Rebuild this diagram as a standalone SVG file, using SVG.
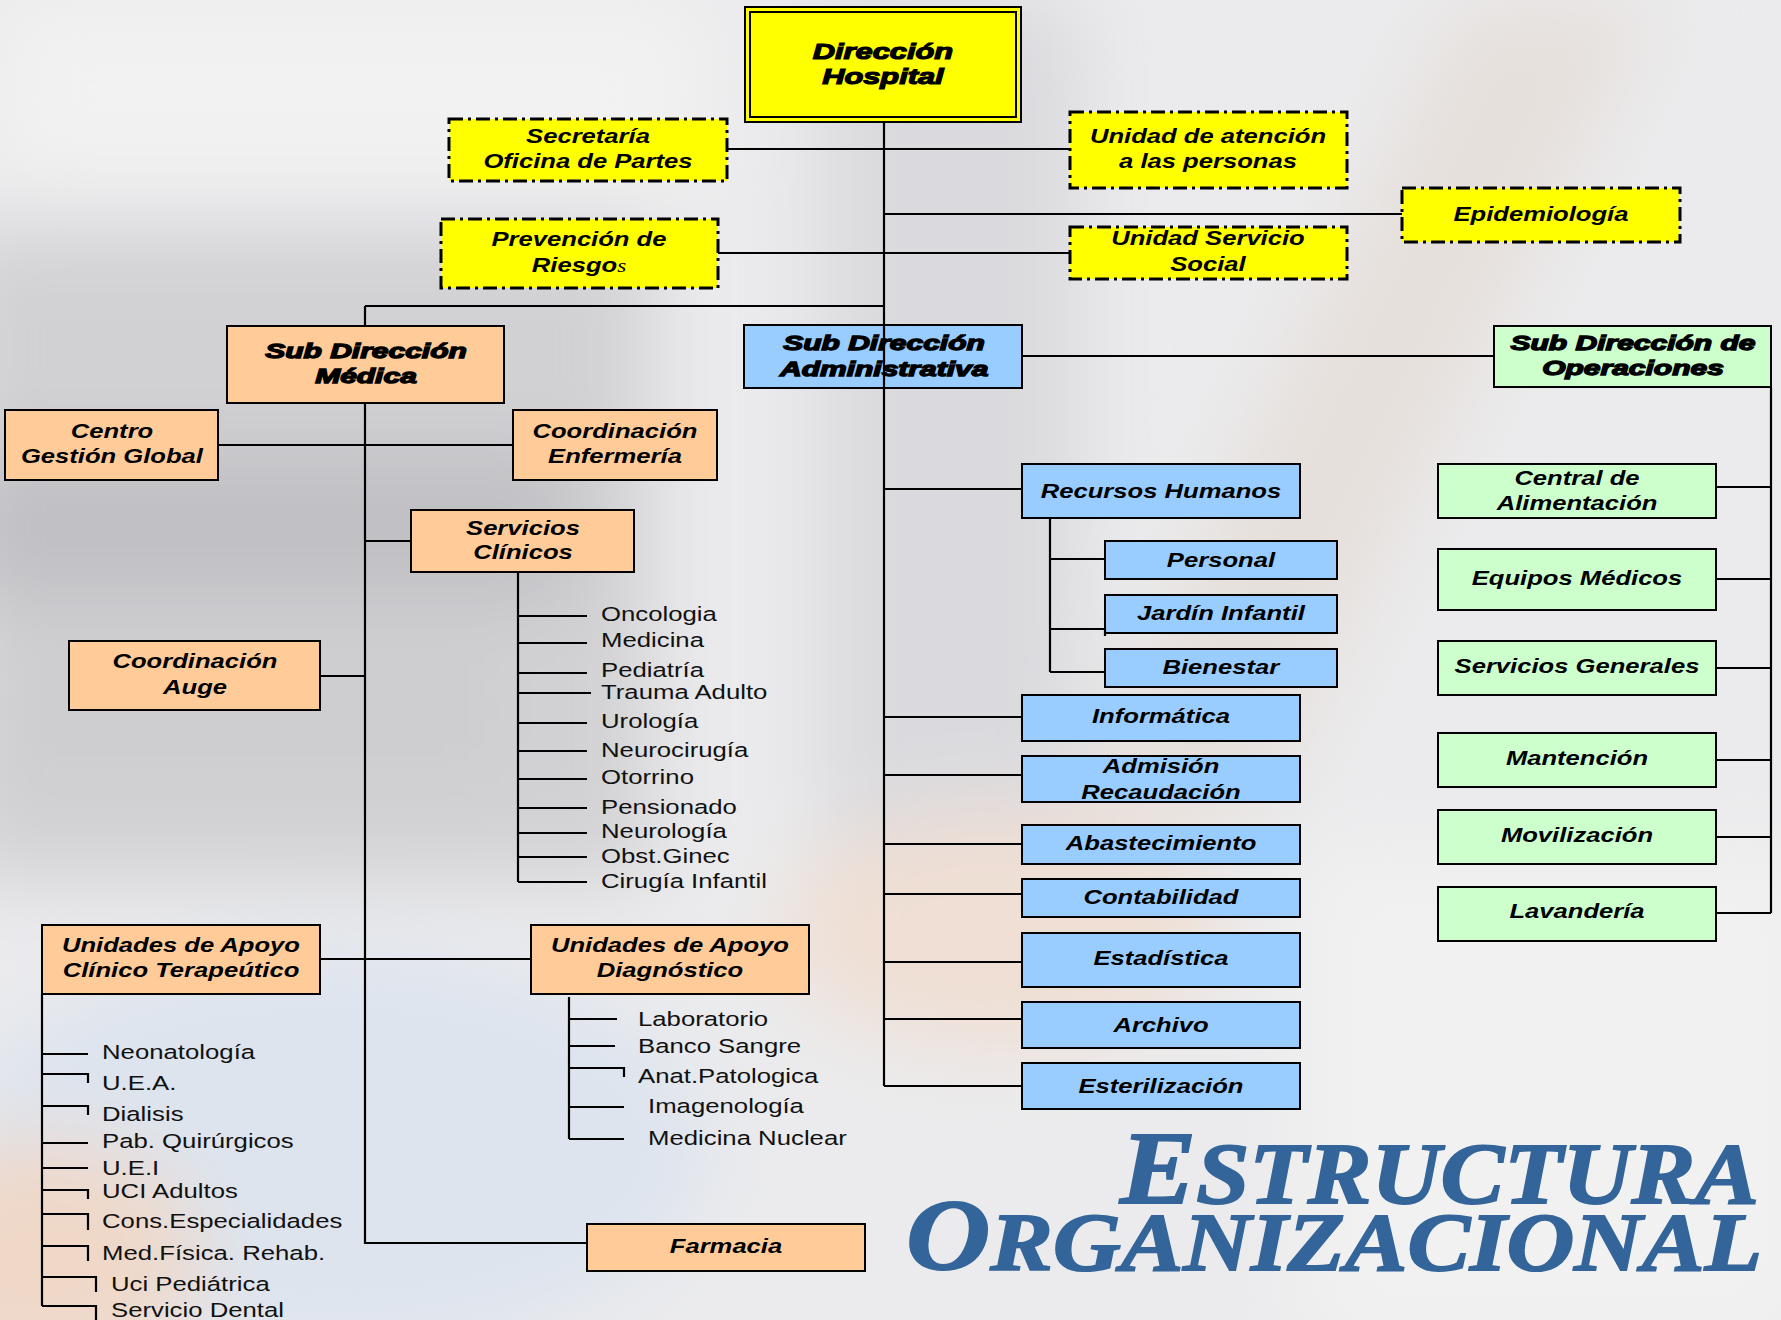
<svg xmlns="http://www.w3.org/2000/svg" width="1781" height="1320" viewBox="0 0 1781 1320">
<style>
.b{font-family:"Liberation Sans",Arial,sans-serif;font-weight:bold;font-style:italic;font-size:21px;text-anchor:middle;fill:#000;transform-box:fill-box;transform-origin:center;transform:scaleX(1.22)}
.h{font-family:"Liberation Sans",Arial,sans-serif;font-weight:bold;font-style:italic;font-size:20px;text-anchor:middle;fill:#000;stroke:#000;stroke-width:1.3;transform-box:fill-box;transform-origin:center;transform:scaleX(1.5)}
.hd{font-family:"Liberation Sans",Arial,sans-serif;font-weight:bold;font-style:italic;font-size:22px;text-anchor:middle;fill:#000;stroke:#000;stroke-width:1.2;transform-box:fill-box;transform-origin:center;transform:scaleX(1.4)}
.i{font-family:"Liberation Sans",Arial,sans-serif;font-size:19.5px;fill:#111;transform-box:fill-box;transform-origin:left center;transform:scaleX(1.32)}
.title{font-family:"Liberation Serif","Times New Roman",serif;font-weight:bold;font-style:italic;fill:#34659a;stroke:#34659a;stroke-width:1.8}
.y{fill:#ffff00;stroke:#000;stroke-width:3;stroke-dasharray:14 5 3 5}
.o{fill:#ffcc99;stroke:#000;stroke-width:2}
.bl{fill:#99ccff;stroke:#000;stroke-width:2}
.g{fill:#ccffcc;stroke:#000;stroke-width:2}
</style>
<defs>
<filter id="blur" x="-30%" y="-30%" width="160%" height="160%"><feGaussianBlur stdDeviation="40"/></filter>
</defs>
<g id="background">
<rect x="0" y="0" width="1781" height="1320" fill="#ebebed"/>
<g filter="url(#blur)">
<rect x="-50" y="230" width="700" height="650" fill="#d1d1d4"/>
<rect x="-50" y="450" width="620" height="150" fill="#c0c0c4"/>
<rect x="0" y="650" width="500" height="120" fill="#cdcdd0"/>
<rect x="820" y="0" width="260" height="950" fill="#dadade"/>
<polygon points="1460,0 1660,0 1260,820 1060,820" fill="#e6e0dc"/>
<ellipse cx="330" cy="1150" rx="380" ry="200" fill="#dde4ee"/>
<ellipse cx="40" cy="1260" rx="160" ry="120" fill="#efd8c8"/>
<ellipse cx="1000" cy="930" rx="220" ry="120" fill="#efdfd4"/>
<rect x="1300" y="850" width="520" height="500" fill="#f1f1f1"/>
<rect x="0" y="0" width="700" height="180" fill="#f2f2f2"/>
</g>
</g>
<g id="dir">
<rect x="745" y="7" width="276" height="115" fill="#ffff00" stroke="#000" stroke-width="2"/>
<rect x="750" y="12" width="266" height="105" fill="none" stroke="#000" stroke-width="2"/>
<text class="hd" x="883" y="59">Dirección</text>
<text class="hd" x="883" y="84">Hospital</text>
</g>
<g id="secretaria">
<rect class="y" x="449" y="119" width="278" height="62"/>
<text class="b" x="588" y="143">Secretaría</text>
<text class="b" x="588" y="168">Oficina de Partes</text>
</g>
<g id="unidad-atencion">
<rect class="y" x="1070" y="112" width="277" height="76"/>
<text class="b" x="1208" y="143">Unidad de atención</text>
<text class="b" x="1208" y="168">a las personas</text>
</g>
<g id="epidemiologia">
<rect class="y" x="1402" y="188" width="278" height="54"/>
<text class="b" x="1541" y="221">Epidemiología</text>
</g>
<g id="prevencion">
<rect class="y" x="441" y="219" width="277" height="69"/>
<text class="b" x="579" y="246">Prevención de</text>
<text class="b" x="579" y="272">Riesgo<tspan style="font-family:'Liberation Serif',serif;font-weight:normal;font-size:19px">s</tspan></text>
</g>
<g id="servicio-social">
<rect class="y" x="1070" y="227" width="277" height="52"/>
<text class="b" x="1208" y="245">Unidad Servicio</text>
<text class="b" x="1208" y="271">Social</text>
</g>
<g id="sub-medica">
<rect class="o" x="227" y="326" width="277" height="77"/>
<text class="h" x="366" y="358">Sub Dirección</text>
<text class="h" x="366" y="383">Médica</text>
</g>
<g id="centro-gestion">
<rect class="o" x="5" y="410" width="213" height="70"/>
<text class="b" x="112" y="438">Centro</text>
<text class="b" x="112" y="463">Gestión Global</text>
</g>
<g id="coord-enfermeria">
<rect class="o" x="513" y="410" width="204" height="70"/>
<text class="b" x="615" y="438">Coordinación</text>
<text class="b" x="615" y="463">Enfermería</text>
</g>
<g id="servicios-clinicos">
<rect class="o" x="411" y="510" width="223" height="62"/>
<text class="b" x="523" y="535">Servicios</text>
<text class="b" x="523" y="559">Clínicos</text>
</g>
<g id="coord-auge">
<rect class="o" x="69" y="641" width="251" height="69"/>
<text class="b" x="195" y="668">Coordinación</text>
<text class="b" x="195" y="694">Auge</text>
</g>
<g id="apoyo-terapeutico">
<rect class="o" x="42" y="925" width="278" height="69"/>
<text class="b" x="181" y="952">Unidades de Apoyo</text>
<text class="b" x="181" y="977">Clínico Terapeútico</text>
</g>
<g id="apoyo-diagnostico">
<rect class="o" x="531" y="925" width="278" height="69"/>
<text class="b" x="670" y="952">Unidades de Apoyo</text>
<text class="b" x="670" y="977">Diagnóstico</text>
</g>
<g id="farmacia">
<rect class="o" x="587" y="1224" width="278" height="47"/>
<text class="b" x="726" y="1253">Farmacia</text>
</g>
<g id="sub-administrativa">
<rect class="bl" x="744" y="325" width="278" height="63"/>
<text class="h" x="884" y="350">Sub Dirección</text>
<text class="h" x="884" y="376">Administrativa</text>
</g>
<g id="recursos-humanos">
<rect class="bl" x="1022" y="464" width="278" height="54"/>
<text class="b" x="1161" y="498">Recursos Humanos</text>
</g>
<g id="personal">
<rect class="bl" x="1105" y="541" width="232" height="38"/>
<text class="b" x="1221" y="567">Personal</text>
</g>
<g id="jardin">
<rect class="bl" x="1105" y="595" width="232" height="38"/>
<text class="b" x="1221" y="620">Jardín Infantil</text>
</g>
<g id="bienestar">
<rect class="bl" x="1105" y="649" width="232" height="38"/>
<text class="b" x="1221" y="674">Bienestar</text>
</g>
<g id="informatica">
<rect class="bl" x="1022" y="695" width="278" height="46"/>
<text class="b" x="1161" y="723">Informática</text>
</g>
<g id="admision">
<rect class="bl" x="1022" y="756" width="278" height="46"/>
<text class="b" x="1161" y="773">Admisión</text>
<text class="b" x="1161" y="799">Recaudación</text>
</g>
<g id="abastecimiento">
<rect class="bl" x="1022" y="825" width="278" height="39"/>
<text class="b" x="1161" y="850">Abastecimiento</text>
</g>
<g id="contabilidad">
<rect class="bl" x="1022" y="879" width="278" height="38"/>
<text class="b" x="1161" y="904">Contabilidad</text>
</g>
<g id="estadistica">
<rect class="bl" x="1022" y="933" width="278" height="54"/>
<text class="b" x="1161" y="965">Estadística</text>
</g>
<g id="archivo">
<rect class="bl" x="1022" y="1002" width="278" height="46"/>
<text class="b" x="1161" y="1032">Archivo</text>
</g>
<g id="esterilizacion">
<rect class="bl" x="1022" y="1063" width="278" height="46"/>
<text class="b" x="1161" y="1093">Esterilización</text>
</g>
<g id="sub-operaciones">
<rect class="g" x="1494" y="326" width="277" height="61"/>
<text class="h" x="1633" y="350">Sub Dirección de</text>
<text class="h" x="1633" y="375">Operaciones</text>
</g>
<g id="central-alimentacion">
<rect class="g" x="1438" y="464" width="278" height="54"/>
<text class="b" x="1577" y="485">Central de</text>
<text class="b" x="1577" y="510">Alimentación</text>
</g>
<g id="equipos-medicos">
<rect class="g" x="1438" y="549" width="278" height="61"/>
<text class="b" x="1577" y="585">Equipos Médicos</text>
</g>
<g id="servicios-generales">
<rect class="g" x="1438" y="641" width="278" height="54"/>
<text class="b" x="1577" y="673">Servicios Generales</text>
</g>
<g id="mantencion">
<rect class="g" x="1438" y="733" width="278" height="54"/>
<text class="b" x="1577" y="765">Mantención</text>
</g>
<g id="movilizacion">
<rect class="g" x="1438" y="810" width="278" height="54"/>
<text class="b" x="1577" y="842">Movilización</text>
</g>
<g id="lavanderia">
<rect class="g" x="1438" y="887" width="278" height="54"/>
<text class="b" x="1577" y="918">Lavandería</text>
</g>
<g id="connectors" fill="none" stroke="#000" stroke-width="2.2">
<path d="M884 122V1086"/>
<path d="M727 149H1070"/>
<path d="M884 214H1402"/>
<path d="M718 253H1070"/>
<path d="M365 306H884M365 306V326"/>
<path d="M1022 356H1494"/>
<path d="M1771 387V913M1716 487H1771M1716 579H1771M1716 668H1771M1716 760H1771M1716 837H1771M1716 913H1771"/>
<path d="M884 489H1022M884 717H1022M884 775H1022M884 844H1022M884 894H1022M884 962H1022M884 1019H1022M884 1086H1022"/>
<path d="M1050 518V672M1050 559H1105M1050 629H1105V636M1050 672H1105"/>
<path d="M365 403V1243H587"/>
<path d="M218 445H513"/>
<path d="M365 541H411"/>
<path d="M320 676H365"/>
<path d="M320 959H531"/>
<path d="M518 572V882M518 616H587M518 643H587M518 673H587M518 693H591M518 723H587M518 751H587M518 779H587M518 808H587M518 833H587M518 857H587M518 882H587"/>
<path d="M42 994V1306M42 1054H88M42 1074H88V1083M42 1106H88V1115M42 1143H88M42 1168H88M42 1190H88V1199M42 1214H88V1230M42 1246H88V1261M42 1277H96V1292M42 1306H96V1320"/>
<path d="M569 997V1139M569 1019H617M569 1046H615M569 1068H624V1077M569 1107H624M569 1139H624"/>
</g>
<g id="servicios-clinicos-list">
<text class="i" x="601" y="621">Oncologia</text>
<text class="i" x="601" y="647">Medicina</text>
<text class="i" x="601" y="677">Pediatría</text>
<text class="i" x="601" y="699">Trauma Adulto</text>
<text class="i" x="601" y="728">Urología</text>
<text class="i" x="601" y="757">Neurocirugía</text>
<text class="i" x="601" y="784">Otorrino</text>
<text class="i" x="601" y="814">Pensionado</text>
<text class="i" x="601" y="838">Neurología</text>
<text class="i" x="601" y="863">Obst.Ginec</text>
<text class="i" x="601" y="888">Cirugía Infantil</text>
</g>
<g id="apoyo-terapeutico-list">
<text class="i" x="102" y="1059">Neonatología</text>
<text class="i" x="102" y="1090">U.E.A.</text>
<text class="i" x="102" y="1121">Dialisis</text>
<text class="i" x="102" y="1148">Pab. Quirúrgicos</text>
<text class="i" x="102" y="1175">U.E.I</text>
<text class="i" x="102" y="1198">UCI Adultos</text>
<text class="i" x="102" y="1228">Cons.Especialidades</text>
<text class="i" x="102" y="1260">Med.Física. Rehab.</text>
<text class="i" x="111" y="1291">Uci Pediátrica</text>
<text class="i" x="111" y="1317">Servicio Dental</text>
</g>
<g id="apoyo-diagnostico-list">
<text class="i" x="638" y="1026">Laboratorio</text>
<text class="i" x="638" y="1053">Banco Sangre</text>
<text class="i" x="638" y="1083">Anat.Patologica</text>
<text class="i" x="648" y="1113">Imagenología</text>
<text class="i" x="648" y="1145">Medicina Nuclear</text>
</g>
<g id="title">
<text class="title" x="1120" y="1203" textLength="639" lengthAdjust="spacingAndGlyphs"><tspan font-size="104">E</tspan><tspan font-size="87">STRUCTURA</tspan></text>
<text class="title" x="906" y="1270" textLength="856" lengthAdjust="spacingAndGlyphs"><tspan font-size="102">O</tspan><tspan font-size="82">RGANIZACIONAL</tspan></text>
</g>
</svg>
